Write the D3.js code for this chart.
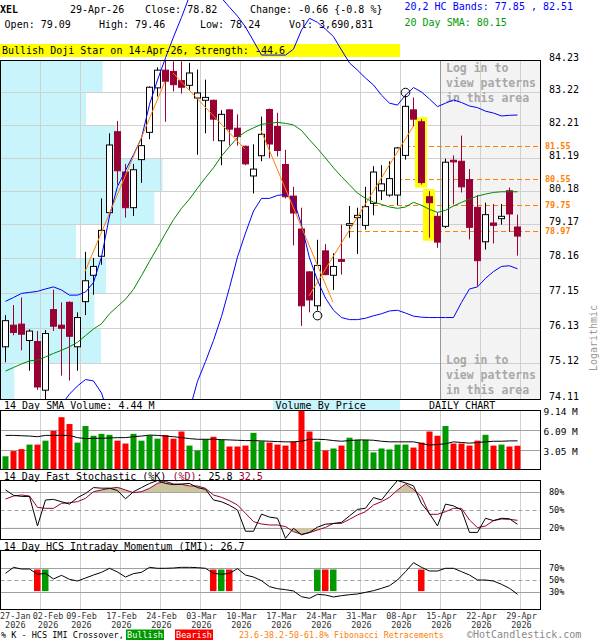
<!DOCTYPE html>
<html><head><meta charset="utf-8">
<script src="https://cdn.jsdelivr.net/npm/d3@7/dist/d3.min.js"></script>
<style>
html,body{margin:0;padding:0;background:#fff;}
svg{display:block;}
text{font-family:"DejaVu Sans Mono","Liberation Mono",monospace;}
</style></head><body>
<svg id="chart" width="600" height="640"></svg>
<script>
// ---------------- DATA ----------------
const symbol = "XEL";
const lastDate = "29-Apr-26";
const lastVolume = 3690831;
const patternText = "Bullish Doji Star on 14-Apr-26, Strength: -44.6";
const tickIndex = [0,4,9,14,19,24,29,34,39,44,49,54,59,64];
const tickLabels = ["27-Jan","02-Feb","09-Feb","17-Feb","24-Feb","03-Mar","10-Mar","17-Mar","24-Mar","31-Mar","08-Apr","15-Apr","22-Apr","29-Apr"];
const tickYear = "2026";
const priceTicks = [84.23,83.22,82.21,81.19,80.18,79.17,78.16,77.15,76.13,75.12,74.11];

const opens  = [75.59,76.21,76.24,75.77,75.74,74.36,76.66,76.21,76.87,75.59,76.89,77.66,78.22,79.52,81.99,80.75,79.67,81.13,81.97,83.36,83.92,83.88,83.59,83.44,83.04,82.97,82.97,81.71,82.67,82.10,81.54,80.63,81.25,82.68,82.15,80.98,80.02,79.03,77.76,76.77,78.38,77.66,78.12,79.14,79.37,79.14,79.80,80.18,80.05,80.05,81.26,82.67,82.30,80.00,79.41,79.11,81.11,81.08,80.52,79.68,78.65,79.21,79.34,80.18,79.09];
const highs  = [76.50,76.79,77.01,76.09,76.04,76.07,77.24,76.87,76.90,76.58,78.35,78.17,79.95,81.94,82.32,81.00,81.00,81.79,83.41,84.01,84.22,84.20,84.20,84.15,83.94,83.62,82.99,82.66,82.69,82.53,81.56,81.60,82.46,82.71,82.58,81.43,80.30,79.67,77.78,78.71,78.58,78.31,79.16,79.72,79.67,80.30,80.93,80.96,81.08,81.52,83.15,83.06,82.38,80.17,79.54,81.16,81.26,81.87,80.84,80.05,79.82,79.78,79.78,80.28,79.46];
const lows   = [75.15,75.92,75.49,74.91,74.37,74.10,76.04,74.77,74.63,74.91,76.50,77.09,77.97,79.40,80.36,79.37,79.42,80.42,81.76,83.09,82.30,83.25,83.18,83.30,81.28,81.94,81.70,80.96,81.56,81.56,80.96,80.10,81.08,81.18,81.23,79.95,78.54,76.19,76.58,76.63,77.66,77.23,77.68,78.77,78.29,79.01,79.44,79.90,80.00,79.75,81.13,82.15,80.37,78.77,78.47,79.06,79.77,80.13,78.72,77.35,78.42,78.60,79.16,78.94,78.24];
const closes = [76.34,76.00,75.95,76.04,74.45,75.97,76.18,76.12,75.89,76.43,77.50,77.92,78.99,81.58,80.79,79.67,80.82,81.56,83.38,83.92,83.57,83.46,83.38,83.83,83.20,83.06,82.38,82.53,82.07,81.84,81.00,80.84,81.91,81.61,81.41,80.00,79.51,76.77,76.94,77.95,77.68,77.92,78.07,79.19,79.44,79.70,80.75,80.39,80.55,81.49,82.78,82.38,80.43,79.82,78.64,81.05,81.06,80.30,79.08,78.09,79.46,79.14,79.41,79.48,78.82];

const sma20 = [74.90,75.00,75.10,75.19,75.21,75.30,75.40,75.49,75.59,75.72,75.91,76.10,76.25,76.54,76.75,76.96,77.25,77.65,78.07,78.48,78.90,79.31,79.65,79.93,80.26,80.58,80.88,81.24,81.53,81.81,81.99,82.11,82.22,82.25,82.28,82.25,82.20,82.03,81.74,81.47,81.18,80.88,80.61,80.36,80.11,79.95,79.84,79.77,79.69,79.65,79.69,79.83,79.74,79.62,79.53,79.59,79.72,79.83,79.93,80.02,80.08,80.13,80.15,80.15,80.15];
const bandUpper = [76.90,77.01,77.13,77.16,77.19,77.26,77.32,77.23,77.08,77.08,77.17,77.45,78.20,79.42,80.31,80.80,81.28,81.80,82.84,83.61,84.31,84.98,85.61,86.30,86.66,86.76,86.56,86.24,85.94,85.65,85.30,84.85,84.40,84.40,84.40,84.40,84.59,85.20,85.58,85.45,85.23,84.99,84.56,84.15,83.92,83.67,83.45,83.13,82.88,82.82,83.13,83.37,83.23,83.01,82.77,82.88,82.98,82.90,82.79,82.74,82.63,82.57,82.48,82.50,82.51];
const bandLower = [73.90,73.85,73.80,73.80,73.75,73.75,73.80,73.95,74.25,74.48,74.66,74.62,74.28,73.60,73.30,73.00,72.80,72.70,72.80,73.00,73.20,73.40,73.60,73.80,74.61,75.17,75.77,76.46,77.30,78.20,78.91,79.57,79.95,79.95,80.04,80.07,79.92,79.15,78.17,77.51,76.99,76.64,76.43,76.37,76.37,76.41,76.48,76.54,76.62,76.64,76.56,76.47,76.44,76.43,76.43,76.43,76.43,76.87,77.26,77.32,77.57,77.77,77.92,77.94,77.85];

// trend lines: [startIndex, startPrice, endIndex, endPrice]
const trendLines = [[10,77.77,20,83.56],[21,83.83,30,81.45],[32,82.03,41,76.87],[38,77.06,51,82.15]];
const fibLevels = [81.55,80.55,79.75,78.97];
const fibStart  = [50,49,46,43];
const highlightIdx = [52,53];
const markerLowIdx = [39];
const markerHighIdx = [50];
const lockStartIdx = 54;

// volume by price (relative units), one per price band from top
const vbp = [61,51,69,97,92,45,63,56,60,8];

const volumes = [2.09,2.88,3.18,3.87,3.87,4.47,5.96,8.04,7.00,4.17,6.70,5.22,5.51,5.36,4.47,4.03,5.51,4.47,5.27,4.77,5.32,4.77,5.86,3.72,2.98,4.67,5.06,4.57,3.58,3.58,3.72,5.66,4.37,4.17,3.87,3.72,4.32,9.10,5.86,4.32,2.98,3.28,3.72,4.92,4.57,4.57,2.68,3.28,3.13,3.87,3.87,3.42,4.17,5.86,5.22,6.70,4.03,4.03,3.72,4.47,5.36,3.72,3.87,3.58,3.69];
const volSMA = [5.27,5.27,5.22,5.17,5.07,5.27,5.27,5.27,5.27,4.93,4.78,4.83,4.83,4.88,4.93,4.93,5.07,5.17,5.32,5.27,5.17,5.07,4.93,4.78,4.68,4.68,4.68,4.63,4.58,4.53,4.48,4.48,4.43,4.38,4.33,4.29,4.29,4.38,4.68,4.68,4.63,4.48,4.38,4.48,4.58,4.58,4.53,4.38,4.29,4.29,4.29,4.29,4.04,3.79,3.89,3.99,4.29,4.19,4.09,4.19,4.29,4.38,4.38,4.43,4.44];
const volTicks = [9.14,6.09,3.05];

const stochK = [84,75,73,73,23,67,68,64,60,71,78,88,87,87,83,69,81,88,95,100,95,93,94,95,88,85,67,64,58,50,14,14,43,38,36,2,19,8,12,21,26,27,29,40,51,53,71,67,84,100,96,91,61,44,23,60,57,50,12,12,36,32,36,35,25.8];
const stochD = [68.6,73.7,75.4,73.7,54.5,52.8,52.8,61.3,62.4,64.1,69.8,81.1,83.9,86.7,88.4,83.9,79.4,81.1,86.7,95.2,98.6,94.1,93.5,90.7,90.7,86.7,75.4,71.5,65.8,58.5,44.4,30.2,26.3,24.6,24.6,21.8,13.3,8.8,11.6,16.1,20.6,27.4,27.4,34.2,41.5,47.2,58.5,64.1,71.5,83.9,94.1,85.0,72.6,42.7,42.7,47.2,52.8,52.8,33.1,20.1,22.9,32.0,34.7,34.2,32.5];
const imi = [61.6,71.6,68.8,68.8,60,61.6,52.2,58.3,51.6,48.8,53.8,58.8,63.3,70,63.8,55.5,61.1,63.3,71.6,70,70,70.5,71.6,71.6,71.1,70,61.6,60,61.6,69.4,58.8,55.5,49.4,39.4,36,34.4,32.2,22.7,20,26.6,25.5,22.2,24.4,26,27.2,29.9,32.7,36.6,41,50.5,64.4,79.4,71.6,65.5,65.5,70,70,64.4,58.8,50.5,50.5,48.8,43.3,36.6,26.7];
const imiBull = [5,27,39,41];
const imiBear = [4,26,28,40,52];

// ---------------- DRAW ----------------
const svg = d3.select("#chart");
const PL = 0.5, PR = 540.5;
const x = d3.scaleLinear().domain([0, 64]).range([5, 517]);
const y = d3.scaleLog().domain([74.11, 84.23]).range([399.1, 60.4]);
const gridX = tickIndex.filter(i => i > 0).map(i => x(i) + 3.5);
const crisp = v => Math.round(v) + 0.5;
const RED_C = "#990033", ORANGE = "#ff8000";

svg.append("rect").attr("width", 600).attr("height", 640).attr("fill", "#fff");

function txt(g, X, Y, s, o = {}) {
  return g.append("text").attr("x", X).attr("y", Y).text(s)
    .attr("font-size", o.size || 10).attr("fill", o.fill || "#000")
    .attr("font-weight", o.weight || "normal").attr("text-anchor", o.anchor || "start");
}
const n = closes.length - 1;
const chg = closes[n] - closes[n - 1];
const chgPct = chg / closes[n - 1] * 100;

// ---- header ----
const hdr = svg.append("g");
txt(hdr, 0, 13, symbol, {weight: "bold"});
txt(hdr, 70, 13, lastDate);
txt(hdr, 145, 13, "Close: " + closes[n].toFixed(2));
txt(hdr, 250, 13, "Change: " + chg.toFixed(2) + " {" + chgPct.toFixed(1) + " %}");
txt(hdr, 4.6, 28, "Open: " + opens[n].toFixed(2));
txt(hdr, 99, 28, "High: " + highs[n].toFixed(2));
txt(hdr, 200, 28, "Low: " + lows[n].toFixed(2));
txt(hdr, 289, 28, "Vol: " + d3.format(",")(lastVolume));
txt(hdr, 404.5, 10, "20,2 HC Bands: " + bandLower[n].toFixed(2) + " , " + bandUpper[n].toFixed(2), {fill: "#0000ff"});
txt(hdr, 404.5, 26, "20 Day SMA: " + sma20[n].toFixed(2), {fill: "#009900"});
hdr.append("rect").attr("x", 0).attr("y", 44).attr("width", 400).attr("height", 13).attr("fill", "#ffff00");
txt(hdr, 2, 54, patternText);

// ---- main plot ----
const main = svg.append("g");
const lockX = x(lockStartIdx) + 3.5;
main.append("rect").attr("x", lockX).attr("y", 60).attr("width", PR - lockX).attr("height", 340).attr("fill", "#f3f3f3");

const vbpW = d3.scaleLinear().domain([0, 100]).range([0, 166.7]);
vbp.forEach((v, k) => {
  const y0 = y(priceTicks[k]), y1 = y(priceTicks[k + 1]);
  main.append("rect").attr("x", 1).attr("y", Math.round(y0) + 1).attr("width", vbpW(v))
    .attr("height", Math.round(y1) - Math.round(y0) - 1).attr("fill", "#c8f4fc");
});
priceTicks.forEach(p => {
  main.append("line").attr("x1", PL).attr("x2", PR).attr("y1", crisp(y(p))).attr("y2", crisp(y(p)))
    .attr("stroke", "#d0d0d0");
});
gridX.forEach(gx => {
  main.append("line").attr("x1", gx).attr("x2", gx).attr("y1", 60).attr("y2", 400).attr("stroke", "#d0d0d0");
});
main.append("line").attr("x1", lockX).attr("x2", lockX).attr("y1", 60).attr("y2", 400).attr("stroke", "#999");
["Log in to", "view patterns", "in this area"].forEach((s, k) => {
  txt(main, 446, 71.5 + k * 15, s, {size: 11.5, weight: "bold", fill: "#a8a8a8"});
  txt(main, 446, 363.5 + k * 15, s, {size: 11.5, weight: "bold", fill: "#a8a8a8"});
});
fibLevels.forEach((lv, k) => {
  const yy = crisp(y(lv));
  main.append("line").attr("x1", x(fibStart[k])).attr("x2", PR).attr("y1", yy).attr("y2", yy)
    .attr("stroke", ORANGE).attr("stroke-dasharray", "5,3");
  txt(main, 545, yy + 2.5, lv.toFixed(2), {size: 8.5, weight: "bold", fill: ORANGE});
});
priceTicks.forEach(p => txt(main, 549, y(p) + 1, p.toFixed(2)));
main.append("text").attr("transform", "translate(597,338) rotate(-90)").attr("text-anchor", "middle")
  .attr("font-size", 10).attr("fill", "#999").text("Logarithmic");

highlightIdx.forEach(i => {
  main.append("rect").attr("x", x(i) - 6).attr("y", y(highs[i]) - 2).attr("width", 12)
    .attr("height", y(lows[i]) - y(highs[i]) + 5).attr("fill", "#ffff00");
});
opens.forEach((o, i) => {
  const c = closes[i], up = c >= o, xc = x(i);
  const col = up ? "#000" : RED_C;
  main.append("line").attr("x1", xc + 0.5).attr("x2", xc + 0.5).attr("y1", y(highs[i])).attr("y2", y(lows[i])).attr("stroke", col);
  const yt = y(Math.max(o, c)), yb = y(Math.min(o, c));
  main.append("rect").attr("x", xc - 2.5).attr("y", yt).attr("width", 6).attr("height", Math.max(yb - yt, 0.8))
    .attr("fill", up ? "#fff" : RED_C).attr("stroke", col);
});
svg.append("clipPath").attr("id", "clipBand").append("rect").attr("x", 0).attr("y", 0).attr("width", 541).attr("height", 400);
const idx = d3.range(closes.length);
const priceLine = arr => d3.line().x(i => x(i) + 0.5).y(i => y(arr[i]))(idx);
const lines = main.append("g").attr("clip-path", "url(#clipBand)").attr("fill", "none");
lines.append("path").attr("d", priceLine(sma20)).attr("stroke", "#008800");
lines.append("path").attr("d", priceLine(bandUpper)).attr("stroke", "#0000ff");
lines.append("path").attr("d", priceLine(bandLower)).attr("stroke", "#0000ff");
trendLines.forEach(t => {
  lines.append("line").attr("x1", x(t[0])).attr("y1", y(t[1])).attr("x2", x(t[2])).attr("y2", y(t[3])).attr("stroke", ORANGE);
});
markerLowIdx.forEach(i => main.append("circle").attr("cx", x(i) + 0.5).attr("cy", y(lows[i]) + 5).attr("r", 4.3).attr("fill", "none").attr("stroke", "#000"));
markerHighIdx.forEach(i => main.append("circle").attr("cx", x(i) + 0.5).attr("cy", y(highs[i]) - 2).attr("r", 4.3).attr("fill", "none").attr("stroke", "#000"));
main.append("rect").attr("x", PL).attr("y", 60.5).attr("width", PR - PL).attr("height", 339).attr("fill", "none").attr("stroke", "#000");

// ---- volume panel ----
const vg = svg.append("g");
const vy = d3.scaleLinear().domain([0, 9.14]).range([470, 410]);
txt(vg, 4, 409, "14 Day SMA Volume: " + volSMA[n].toFixed(2) + " M");
vg.append("rect").attr("x", 273).attr("y", 400).attr("width", 127).attr("height", 10).attr("fill", "#c8f4fc");
txt(vg, 275.5, 409, "Volume By Price");
txt(vg, 429, 409, "DAILY CHART");
gridX.forEach(gx => vg.append("line").attr("x1", gx).attr("x2", gx).attr("y1", 410).attr("y2", 470).attr("stroke", "#d0d0d0"));
volTicks.slice(1).forEach(v => vg.append("line").attr("x1", PL).attr("x2", PR).attr("y1", crisp(vy(v))).attr("y2", crisp(vy(v))).attr("stroke", "#a0a0a0"));
volumes.forEach((v, i) => {
  vg.append("rect").attr("x", x(i) - 2.5).attr("y", vy(v)).attr("width", 6).attr("height", 470 - vy(v))
    .attr("fill", closes[i] >= opens[i] ? "#009900" : "#ff0000");
});
vg.append("path").attr("d", d3.line().x(i => x(i) + 0.5).y(i => vy(volSMA[i]))(idx)).attr("fill", "none").attr("stroke", "#000");
vg.append("rect").attr("x", PL).attr("y", 410.5).attr("width", PR - PL).attr("height", 59).attr("fill", "none").attr("stroke", "#000");
volTicks.forEach(v => txt(vg, 543.5, vy(v) + 5, v.toFixed(2) + " M", {size: 9.5}));

// ---- stochastic panel ----
const sg = svg.append("g");
const sy = d3.scaleLinear().domain([0, 100]).range([539.5, 480.5]);
const st = sg.append("text").attr("x", 3.8).attr("y", 479.5).attr("font-size", 10);
st.append("tspan").text("14 Day Fast Stochastic (%K) ");
st.append("tspan").attr("fill", RED_C).text("(%D)");
st.append("tspan").text(": " + stochK[n].toFixed(1) + "  ");
st.append("tspan").attr("fill", RED_C).text(stochD[n].toFixed(1));
gridX.forEach(gx => sg.append("line").attr("x1", gx).attr("x2", gx).attr("y1", 480).attr("y2", 540).attr("stroke", "#d0d0d0"));
[80, 20].forEach(v => sg.append("line").attr("x1", PL).attr("x2", PR).attr("y1", crisp(sy(v))).attr("y2", crisp(sy(v))).attr("stroke", "#a0a0a0"));
sg.append("line").attr("x1", PL).attr("x2", PR).attr("y1", crisp(sy(50))).attr("y2", crisp(sy(50))).attr("stroke", "#a0a0a0").attr("stroke-dasharray", "4,3");
svg.append("clipPath").attr("id", "clipHi").append("rect").attr("x", 0).attr("y", 470).attr("width", 541).attr("height", sy(80) - 470);
svg.append("clipPath").attr("id", "clipLo").append("rect").attr("x", 0).attr("y", sy(20)).attr("width", 541).attr("height", 560 - sy(20));
const areaTo = lvl => d3.area().x(i => x(i) + 0.5).y0(sy(lvl)).y1(i => sy(stochD[i]))(idx);
sg.append("path").attr("d", areaTo(80)).attr("fill", "#cbc6a0").attr("clip-path", "url(#clipHi)");
sg.append("path").attr("d", areaTo(20)).attr("fill", "#cbc6a0").attr("clip-path", "url(#clipLo)");
sg.append("path").attr("d", d3.line().x(i => x(i) + 0.5).y(i => sy(stochD[i]))(idx)).attr("fill", "none").attr("stroke", RED_C);
sg.append("path").attr("d", d3.line().x(i => x(i) + 0.5).y(i => sy(stochK[i]))(idx)).attr("fill", "none").attr("stroke", "#000");
sg.append("rect").attr("x", PL).attr("y", 480.5).attr("width", PR - PL).attr("height", 59).attr("fill", "none").attr("stroke", "#000");
[80, 50, 20].forEach(v => txt(sg, 549, sy(v) + 3, v + "%", {size: 8.5}));

// ---- IMI panel ----
const ig = svg.append("g");
const iy = d3.scaleLinear().domain([0, 100]).range([610.3, 550.3]);
txt(ig, 3.8, 549.5, "14 Day HCS Intraday Momentum (IMI): " + imi[n].toFixed(1));
gridX.forEach(gx => ig.append("line").attr("x1", gx).attr("x2", gx).attr("y1", 550).attr("y2", 610).attr("stroke", "#d0d0d0"));
[70, 30].forEach(v => ig.append("line").attr("x1", PL).attr("x2", PR).attr("y1", crisp(iy(v))).attr("y2", crisp(iy(v))).attr("stroke", "#a0a0a0"));
ig.append("line").attr("x1", PL).attr("x2", PR).attr("y1", crisp(iy(50))).attr("y2", crisp(iy(50))).attr("stroke", "#a0a0a0").attr("stroke-dasharray", "4,3");
imiBear.forEach(i => ig.append("rect").attr("x", x(i) - 3).attr("y", iy(68)).attr("width", 6.5).attr("height", iy(32) - iy(68)).attr("fill", "#ff0000"));
imiBull.forEach(i => ig.append("rect").attr("x", x(i) - 3).attr("y", iy(68)).attr("width", 6.5).attr("height", iy(32) - iy(68)).attr("fill", "#009900"));
ig.append("path").attr("d", d3.line().x(i => x(i) + 0.5).y(i => iy(imi[i]))(idx)).attr("fill", "none").attr("stroke", "#000");
ig.append("rect").attr("x", PL).attr("y", 550.5).attr("width", PR - PL).attr("height", 59).attr("fill", "none").attr("stroke", "#000");
[70, 50, 30].forEach(v => txt(ig, 549, iy(v) + 3, v + "%", {size: 8.5}));

// ---- date axis ----
const ag = svg.append("g");
let prevEnd = -10;
const cw = 8.5 * 0.602;
tickIndex.forEach((ti, k) => {
  const w = tickLabels[k].length * cw;
  let cx = x(ti) + 4.5;
  cx = Math.max(cx, w / 2, prevEnd + 2 + w / 2);
  prevEnd = cx + w / 2;
  txt(ag, cx, 618.5, tickLabels[k], {size: 8.5, anchor: "middle", fill: "#333"});
  txt(ag, cx, 627.5, tickYear, {size: 8.5, anchor: "middle", fill: "#333"});
});

// ---- legend ----
const lg = svg.append("g");
txt(lg, 1, 637.5, "% K - HCS IMI Crossover,", {size: 8.5});
lg.append("rect").attr("x", 126).attr("y", 629.5).attr("width", 38).attr("height", 10.5).attr("fill", "#009900");
txt(lg, 145, 637.5, "Bullish", {size: 8.5, fill: "#fff", anchor: "middle"});
lg.append("rect").attr("x", 175).attr("y", 629.5).attr("width", 38).attr("height", 10.5).attr("fill", "#ff0000");
txt(lg, 194, 637.5, "Bearish", {size: 8.5, fill: "#fff", anchor: "middle"});
txt(lg, 239, 637.5, "23.6-38.2-50-61.8% Fibonacci Retracements", {size: 8.3, fill: ORANGE});
txt(lg, 467, 637.8, "\u00A9HotCandlestick.com", {size: 10, fill: "#888"});
</script>
</body></html>
